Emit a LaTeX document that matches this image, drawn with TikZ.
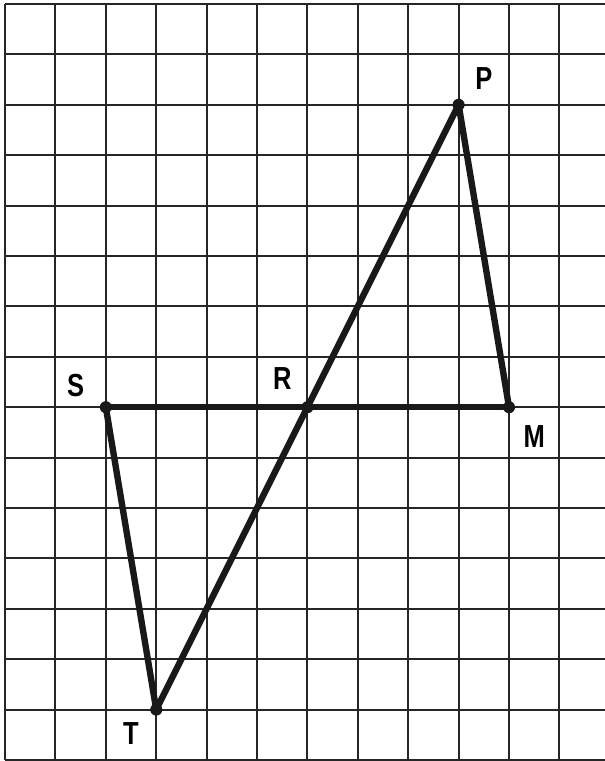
\documentclass[tikz,border=0pt]{standalone}
\usepackage{fontspec}
\setmainfont{Liberation Sans}
\usepackage{tikz}
\usetikzlibrary{positioning}

\begin{document}
\begin{tikzpicture}[
  gridline/.style={black!85, line width=1.1pt},
  seg/.style={black!90, line width=3.6pt, line cap=round},
  dot/.style={circle, fill=black!90, inner sep=0pt, minimum size=0.24cm},
  lab/.style={font=\fontsize{18}{20}\selectfont\bfseries, inner sep=0pt,
              xscale=0.8, transform shape},
]
\useasboundingbox (-0.1,-0.02) rectangle (11.9,15.08);
\draw[gridline] (0,0) grid (11.9,15);

\node[dot] (P) at (9,13) {};
\node[dot] (M) at (10,7) {};
\node[dot] (S) at (2,7) {};
\node[dot] (R) at (6,7) {};
\node[dot] (T) at (3,1) {};

\draw[seg] (S.center) -- (M.center);
\draw[seg] (P.center) -- (T.center);
\draw[seg] (P.center) -- (M.center);
\draw[seg] (S.center) -- (T.center);

\node[lab] (lP) at (9.5,13.53) {P};
\node[lab] (lM) at (10.5,6.42) {M};
\node[lab] (lS) at (1.4,7.44) {S};
\node[lab] (lR) at (5.5,7.56) {R};
\node[lab] (lT) at (2.5,0.52) {T};
\end{tikzpicture}
\end{document}
